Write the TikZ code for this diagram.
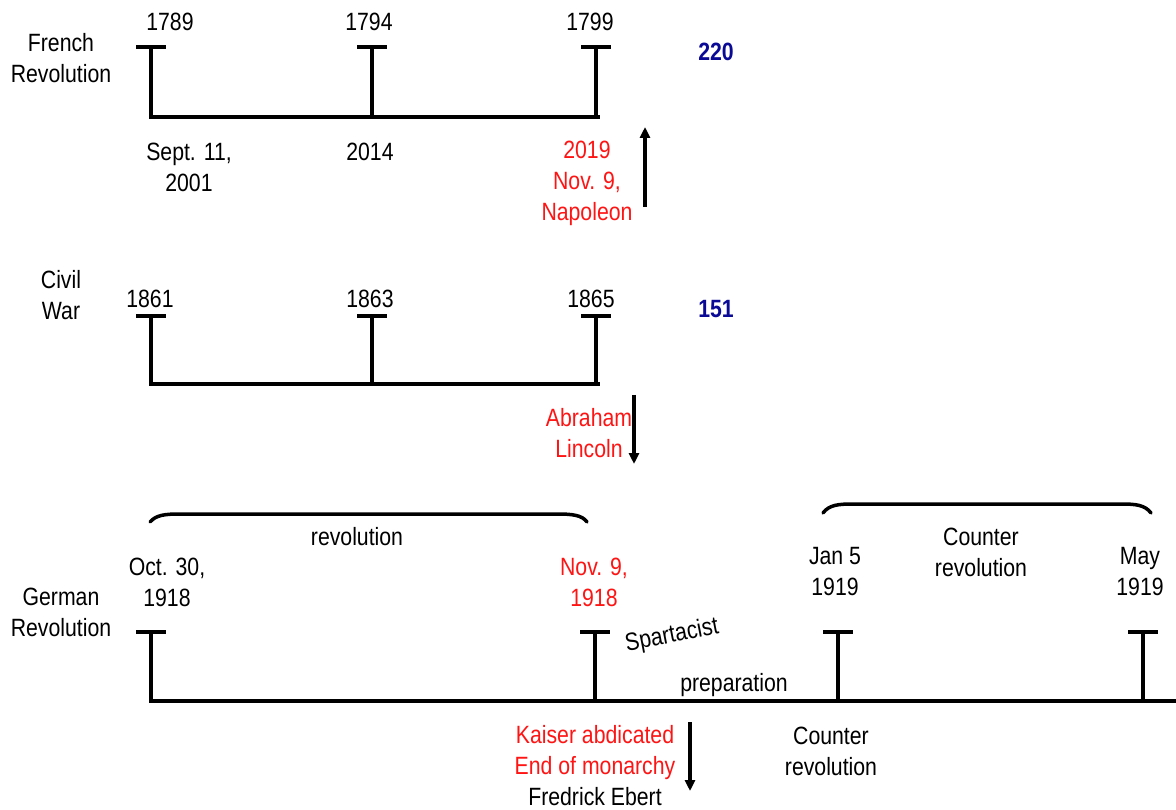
\documentclass[tikz,border=0pt]{standalone}
\usepackage{fontspec}
\setmainfont[FakeStretch=0.85]{Liberation Sans}
\usetikzlibrary{arrows.meta}
\definecolor{tred}{RGB}{255,20,20}
\definecolor{tblue}{RGB}{10,10,150}
\tikzset{
  lbl/.style={inner sep=0pt, align=center, font=\fontsize{25}{31}\selectfont},
  redlbl/.style={lbl, text=tred},
  bluelbl/.style={lbl, text=tblue, font=\fontsize{25}{31}\selectfont\bfseries},
  axis/.style={line width=4pt},
  tbar/.style={line width=4pt},
  brace/.style={line width=3.5pt, line cap=round},
  arr/.style={line width=3.5pt, -{Triangle[length=11pt,width=10pt]}},
}
\begin{document}
\begin{tikzpicture}[x=1pt,y=-1pt]
\useasboundingbox (0,0) rectangle (1176,810);
% ---------- French Revolution ----------
\foreach \n/\x in {fa/151,fb/372,fc/596}{
  \coordinate (\n top) at (\x,47);
  \coordinate (\n bot) at (\x,117);
  \draw[tbar] (\x-15,47) -- (\x+15,47);
  \draw[tbar] (\n top) -- (\n bot);
}
\draw[axis] ([xshift=-2pt]fabot) -- ([xshift=4pt]fcbot);
\node[lbl] (fr) at (61,58) {French\\Revolution};
\node[lbl] (y1789) at (170,22) {1789};
\node[lbl] (y1794) at (369,22) {1794};
\node[lbl] (y1799) at (590,22) {1799};
\node[bluelbl] (n220) at (716,52) {220};
\node[lbl] (sept) at (189,167) {Sept. 11,\\2001};
\node[lbl] (y2014) at (370,152) {2014};
\node[redlbl] (nap) at (587,183) {2019\\Nov. 9,\\Napoleon};
\coordinate (ua) at (645,207);
\coordinate (ub) at (645,127);
\draw[arr] (ua) -- (ub);
% ---------- Civil War ----------
\foreach \n/\x in {ca/151,cb/372,cc/596}{
  \coordinate (\n top) at (\x,316);
  \coordinate (\n bot) at (\x,384);
  \draw[tbar] (\x-15,316) -- (\x+15,316);
  \draw[tbar] (\n top) -- (\n bot);
}
\draw[axis] ([xshift=-2pt]cabot) -- ([xshift=4pt]ccbot);
\node[lbl] (cw) at (61,295) {Civil\\War};
\node[lbl] (y1861) at (150,299) {1861};
\node[lbl] (y1863) at (370,299) {1863};
\node[lbl] (y1865) at (591,299) {1865};
\node[bluelbl] (n151) at (716,309) {151};
\node[redlbl] (abe) at (589,433) {Abraham\\Lincoln};
\coordinate (da) at (634,395);
\coordinate (db) at (634,464);
\draw[arr] (da) -- (db);
% ---------- German Revolution ----------
\foreach \n/\x in {ga/151,gb/595,gc/838,gd/1143}{
  \coordinate (\n top) at (\x,632);
  \coordinate (\n bot) at (\x,701);
  \draw[tbar] (\x-15,632) -- (\x+15,632);
  \draw[tbar] (\n top) -- (\n bot);
}
\coordinate (gend) at (1176,701);
\draw[axis] ([xshift=-2pt]gabot) -- (gend);
% braces
\draw[brace] (150,522) .. controls (156,515) and (165,514) .. (180,514) -- (557,514) .. controls (572,514) and (582,515) .. (587,522);
\draw[brace] (823,513) .. controls (829,505) and (838,504) .. (853,504) -- (1121,504) .. controls (1136,504) and (1145,505) .. (1151,513);
\node[lbl] (rev) at (357,537) {revolution};
\node[lbl] (cr1) at (981,552) {Counter\\revolution};
\node[lbl] (gr) at (61,612) {German\\Revolution};
\node[lbl] (oct) at (167,582) {Oct. 30,\\1918};
\node[redlbl] (nov) at (594,582) {Nov. 9,\\1918};
\node[lbl] (jan) at (835,572) {Jan 5\\1919};
\node[lbl] (may) at (1140,572) {May\\1919};
\node[lbl, rotate=11] (spa) at (672,636) {Spartacist};
\node[lbl] (prep) at (734,685) {preparation};
\node[lbl] (kai) at (595,766) {\textcolor{tred}{Kaiser abdicated}\\\textcolor{tred}{End of monarchy}\\Fredrick Ebert};
\node[lbl] (cr2) at (831,751) {Counter\\revolution};
\coordinate (ea) at (690,722);
\coordinate (eb) at (690,791);
\draw[arr] (ea) -- (eb);
\end{tikzpicture}
\end{document}
